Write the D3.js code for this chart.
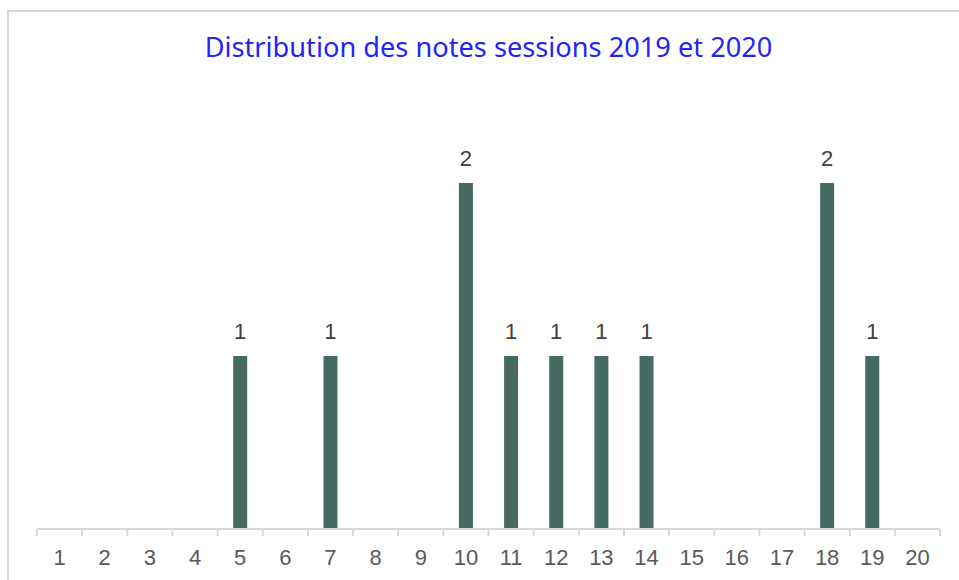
<!DOCTYPE html>
<html><head><meta charset="utf-8">
<script src="https://cdn.jsdelivr.net/npm/d3@7"></script>
<style>body{margin:0;background:#fff}svg{display:block}</style>
</head><body>
<svg id="c" width="959" height="580"></svg>
<script>
const categories = ["1","2","3","4","5","6","7","8","9","10","11","12","13","14","15","16","17","18","19","20"];
const values = [0,0,0,0,1,0,1,0,0,2,1,1,1,1,0,0,0,2,1,0];
const title = "Distribution des notes sessions 2019 et 2020";

const data = categories.map((c,i)=>({c, v: values[i]}));
const svg = d3.select("#c");
// frame
svg.append("rect").attr("x",8).attr("y",11).attr("width",1000).attr("height",1000)
  .attr("fill","none").attr("stroke","#d9d9d9").attr("stroke-width",2);

const x = d3.scaleBand().domain(categories).range([37,940]).paddingInner(0.69).paddingOuter(0.345);
const xb = d3.scaleBand().domain(categories).range([37,940]);
const y = d3.scaleLinear().domain([0,2]).range([529,183]);

const t = svg.append("text").attr("x",488.5).attr("y",57).attr("text-anchor","middle")
  .attr("font-family","'Noto Sans', sans-serif").attr("font-size",24)
  .attr("fill","#2424f5").text(title);
const w = t.node().getComputedTextLength();
t.attr("font-size", 24*568/w);

svg.selectAll("rect.bar").data(data).join("rect").attr("class","bar")
  .attr("x",d=>x(d.c)).attr("width",x.bandwidth())
  .attr("y",d=>y(d.v)).attr("height",d=>y(0)-y(d.v)).attr("fill","#466b63");

svg.selectAll("text.val").data(data.filter(d=>d.v>0)).join("text").attr("class","val")
  .attr("x",d=>x(d.c)+x.bandwidth()/2).attr("y",d=>y(d.v)-17)
  .attr("text-anchor","middle").attr("font-family","'Liberation Sans', Arial, sans-serif")
  .attr("font-size",22).attr("fill","#404040").text(d=>d.v);

// axis
const ax = svg.append("g");
ax.append("line").attr("x1",37).attr("x2",940).attr("y1",529).attr("y2",529)
  .attr("stroke","#d9d9d9").attr("stroke-width",2);
const bounds = categories.map(c=>xb(c)).concat([940]);
ax.selectAll("line.tk").data(bounds).join("line").attr("class","tk")
  .attr("x1",d=>d).attr("x2",d=>d).attr("y1",529).attr("y2",536)
  .attr("stroke","#d9d9d9").attr("stroke-width",2);
ax.selectAll("text.tl").data(categories).join("text").attr("class","tl")
  .attr("x",d=>xb(d)+xb.bandwidth()/2).attr("y",565).attr("text-anchor","middle")
  .attr("font-family","'Liberation Sans', Arial, sans-serif").attr("font-size",22)
  .attr("fill","#595959").text(d=>d);
</script>
</body></html>
